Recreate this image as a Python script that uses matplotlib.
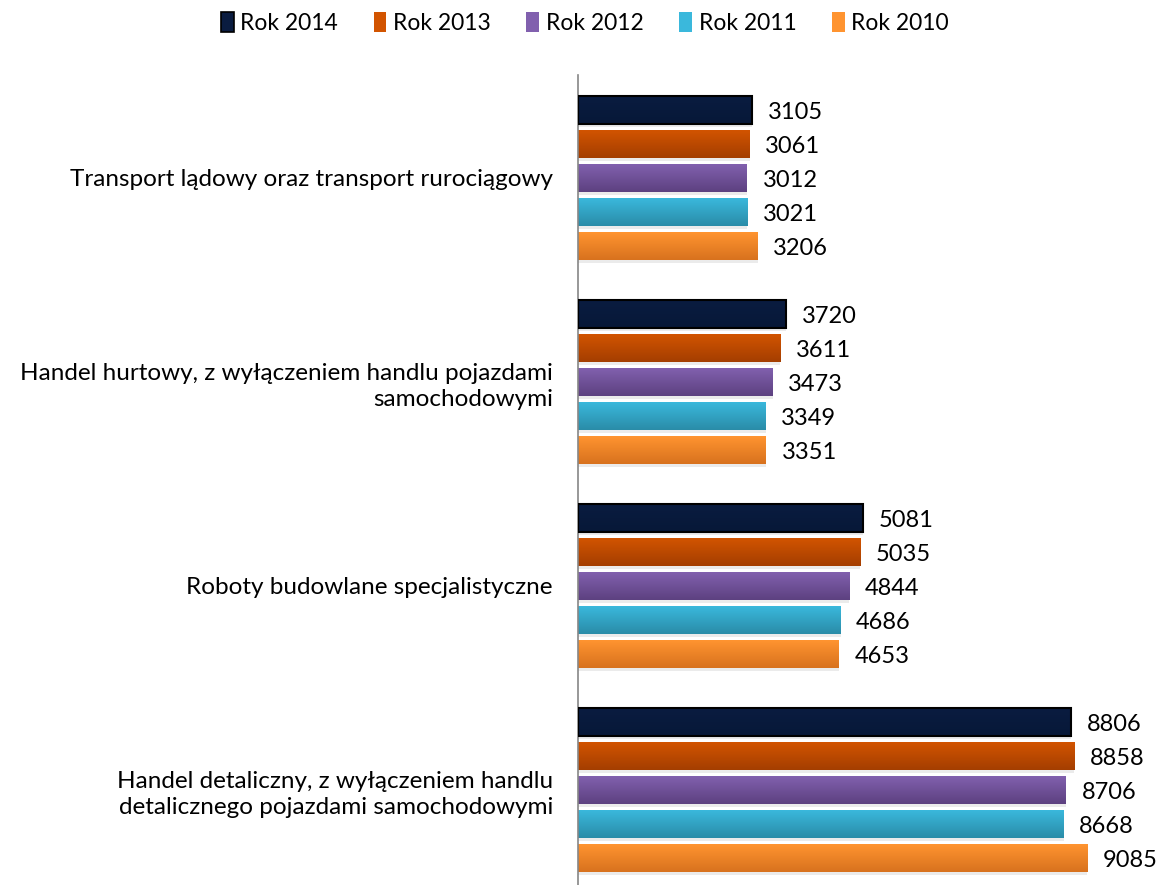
import matplotlib.pyplot as plt
import matplotlib.colors as mcolors
import numpy as np

plt.rcParams['font.family'] = ['Lato', 'DejaVu Sans']

categories = [
    'Transport lądowy oraz transport rurociągowy',
    'Handel hurtowy, z wyłączeniem handlu pojazdami\nsamochodowymi',
    'Roboty budowlane specjalistyczne',
    'Handel detaliczny, z wyłączeniem handlu\ndetalicznego pojazdami samochodowymi',
]
series = ['Rok 2014', 'Rok 2013', 'Rok 2012', 'Rok 2011', 'Rok 2010']
rok_2014 = [3105, 3720, 5081, 8806]
rok_2013 = [3061, 3611, 5035, 8858]
rok_2012 = [3012, 3473, 4844, 8706]
rok_2011 = [3021, 3349, 4686, 8668]
rok_2010 = [3206, 3351, 4653, 9085]
values = [rok_2014, rok_2013, rok_2012, rok_2011, rok_2010]

# top / bottom colour of the gradient for each series
top_cols = ['#0a1c40', '#d25400', '#8160ae', '#3ab8dc', '#ff9430']
bot_cols = ['#071838', '#a43e00', '#5d4180', '#2a8ca8', '#d8721e']

fig = plt.figure(figsize=(11.59, 8.85), dpi=100)
ax = fig.add_axes([578 / 1159, 0, 1 - 578 / 1159, 1 - 75 / 885])

step = 6  # 5 bars + one gap per group
bar_h = 0.82
for i, (name, vals) in enumerate(zip(series, values)):
    pos = np.arange(len(categories)) * step + i
    # soft shadow
    ax.barh(pos + 0.1, vals, height=bar_h, left=0, color='#000000', alpha=0.08,
            zorder=1)
    bars = ax.barh(pos, vals, height=bar_h, color=top_cols[i], label=name,
                   edgecolor='black' if i == 0 else 'none', linewidth=1.2,
                   zorder=2)
    cmap = mcolors.LinearSegmentedColormap.from_list('g', [top_cols[i], bot_cols[i]])
    grad = np.linspace(0, 1, 64).reshape(-1, 1)
    for b, v in zip(bars, vals):
        x0, y0 = b.get_x(), b.get_y()
        w, h = b.get_width(), b.get_height()
        im = ax.imshow(grad, cmap=cmap, aspect='auto', origin='upper',
                       extent=(x0, x0 + w, y0 + h, y0), zorder=2.5)
        im.set_clip_path(b)
        if i == 0:
            ax.barh(b.get_y() + h / 2, w, height=h, color='none',
                    edgecolor='black', linewidth=1.5, zorder=3)
        ax.text(v + 280, y0 + h / 2 + 0.07, str(v), va='center', ha='left',
                fontsize=17, zorder=4)

ax.set_xlim(0, 581 / 0.05603)
ax.set_ylim(22 + 27 / 34, -35 / 34)

ax.set_xticks([])
centers = np.arange(len(categories)) * step + 2
ax.set_yticks(centers)
ax.set_yticklabels(categories, fontsize=17.5, ha='right', linespacing=1.3)
ax.tick_params(axis='y', length=0, pad=18)
for s in ['top', 'right', 'bottom']:
    ax.spines[s].set_visible(False)
ax.spines['left'].set_color('#868686')
ax.spines['left'].set_linewidth(1.2)

handles, labels = ax.get_legend_handles_labels()
fig.legend(handles, labels, loc='center', bbox_to_anchor=(585 / 1159, 1 - 23 / 885),
           ncol=5, frameon=False, fontsize=16.5, handlelength=0.55, handleheight=0.95,
           handletextpad=0.3, columnspacing=1.55)

fig.savefig('out.png', dpi=100)
